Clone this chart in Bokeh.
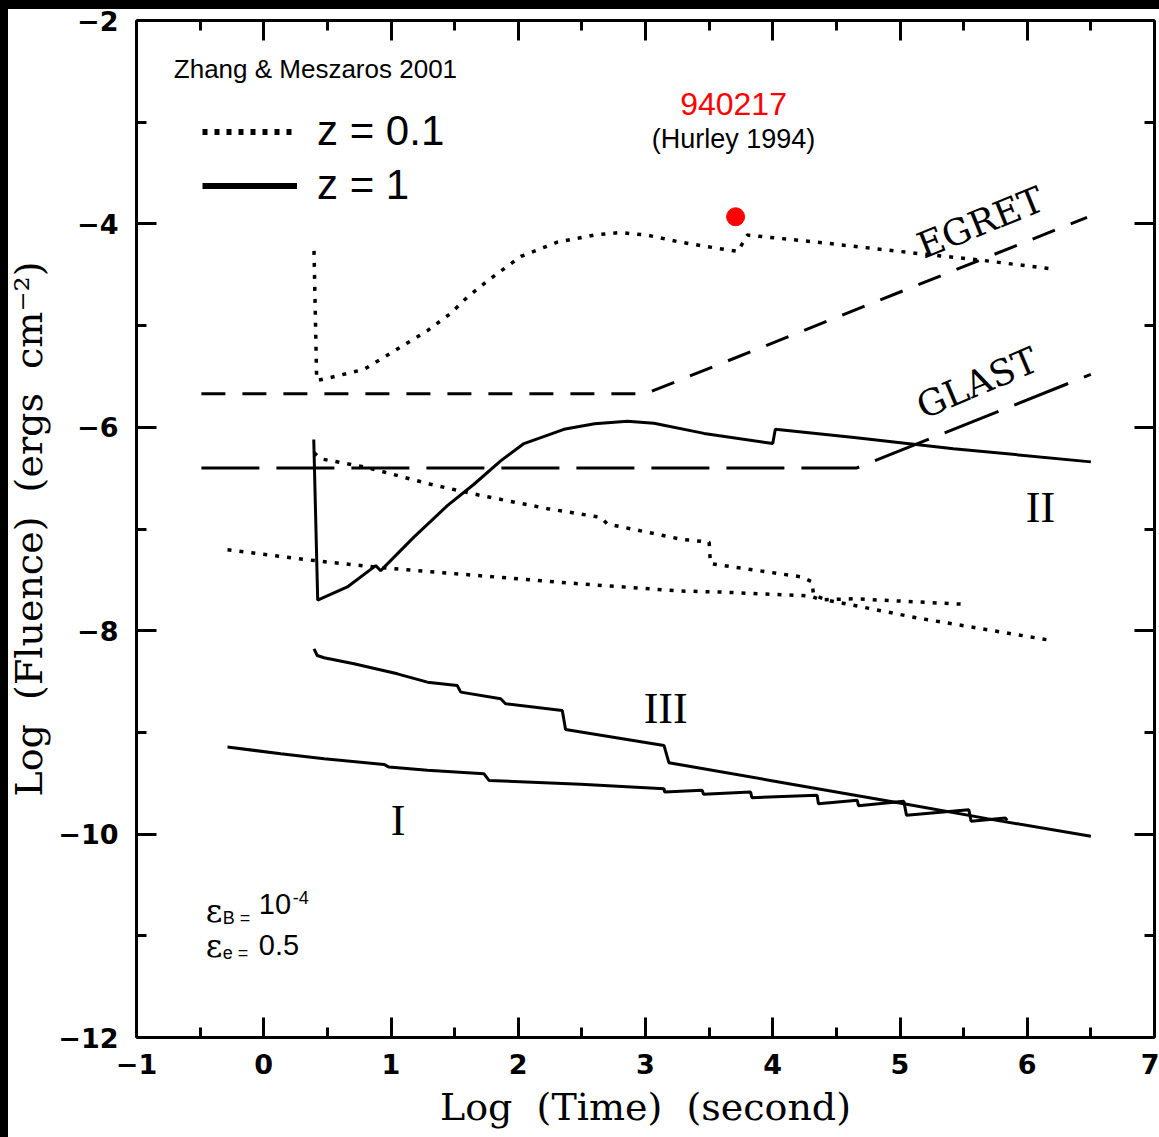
from bokeh.plotting import figure
from bokeh.models import (Range1d, LinearAxis, FixedTicker, Label, Legend, LegendItem,
                          CustomLabelingPolicy)
from bokeh.embed import file_html
from bokeh.resources import INLINE

# ---------------- data ----------------
x_ticks = [-1, 0, 1, 2, 3, 4, 5, 6, 7]
x_tick_labels = ["−1", "0", "1", "2", "3", "4", "5", "6", "7"]
x_minor = [-0.5, 0.5, 1.5, 2.5, 3.5, 4.5, 5.5, 6.5]
y_ticks = [-12, -10, -8, -6, -4, -2]
y_tick_labels = ["−12", "−10", "−8", "−6", "−4", "−2"]
y_minor = [-11, -9, -7, -5, -3]

# z = 0.1 (dotted), upper curve
dz_up_x = [0.395, 0.416, 0.526, 0.788, 1.05, 1.286, 1.469, 1.60, 1.78, 2.02, 2.307, 2.595,
           2.80, 3.01, 3.276, 3.616, 3.726, 3.80, 4.35, 5.135, 5.66, 6.17]
dz_up_y = [-4.265, -5.54, -5.51, -5.43, -5.23, -5.05, -4.88, -4.72, -4.54, -4.32, -4.18, -4.11,
           -4.085, -4.11, -4.18, -4.25, -4.27, -4.11, -4.18, -4.29, -4.36, -4.44]

# z = 0.1 (dotted), middle curve
dz_mid_x = [0.395, 0.448, 0.788, 0.945, 1.31, 1.705, 2.23, 2.647, 2.70, 3.276, 3.50, 3.51,
            4.22, 4.31, 4.32, 4.43, 5.16, 6.21]
dz_mid_y = [-6.25, -6.31, -6.39, -6.44, -6.56, -6.67, -6.80, -6.885, -6.95, -7.10, -7.13, -7.34,
            -7.47, -7.52, -7.65, -7.70, -7.88, -8.10]

# z = 0.1 (dotted), lower curve
dz_low_x = [-0.285, 0.395, 0.919, 1.705, 2.49, 3.276, 3.59, 4.22, 4.30, 4.375, 4.64, 5.53]
dz_low_y = [-7.205, -7.31, -7.38, -7.46, -7.54, -7.61, -7.62, -7.654, -7.66, -7.696, -7.686, -7.742]

# z = 1 (solid), curve II
s2_x = [0.393, 0.424, 0.657, 0.88, 0.919, 0.958, 1.18, 1.443, 1.652, 1.862, 2.045, 2.359, 2.60,
        2.857, 3.066, 3.46, 4.0, 4.02, 4.64, 5.42, 6.50]
s2_y = [-6.12, -7.70, -7.57, -7.36, -7.41, -7.36, -7.08, -6.77, -6.56, -6.33, -6.16, -6.02, -5.965,
        -5.94, -5.96, -6.06, -6.16, -6.02, -6.10, -6.21, -6.34]

# z = 1 (solid), curve III
s3_x = [0.395, 0.42, 0.474, 0.709, 1.05, 1.286, 1.52, 1.548, 1.862, 1.90, 2.346, 2.372, 3.145,
        3.184, 3.98, 5.03, 5.685, 6.50]
s3_y = [-8.178, -8.244, -8.266, -8.325, -8.424, -8.506, -8.538, -8.604, -8.669, -8.718, -8.784,
        -8.971, -9.128, -9.298, -9.472, -9.701, -9.848, -10.022]

# z = 1 (solid), curve I
s1_x = [-0.285, 0.134, 0.474, 0.945, 0.984, 1.286, 1.73, 1.77, 2.49, 3.145, 3.15, 3.446, 3.456,
        3.826, 3.836, 4.349, 4.359, 4.664, 4.674, 5.03, 5.051, 5.541, 5.559, 5.829, 5.842]
s1_y = [-9.144, -9.21, -9.259, -9.315, -9.341, -9.373, -9.406, -9.472, -9.511, -9.553, -9.586,
        -9.570, -9.609, -9.586, -9.642, -9.619, -9.701, -9.668, -9.721, -9.678, -9.815, -9.760,
        -9.874, -9.842, -9.864]

# detector sensitivity limits
egret_x = [-0.49, 3.0, 6.47]
egret_y = [-5.67, -5.67, -3.935]
glast_x = [-0.49, 4.66, 6.50]
glast_y = [-6.40, -6.40, -5.48]

# GRB 940217 point
grb_x = [3.708]
grb_y = [-3.93]

# ---------------- figure ----------------
p = figure(width=1159, height=1137, x_range=Range1d(-1, 7), y_range=Range1d(-12, -2),
           output_backend="svg", toolbar_location=None,
           min_border_left=136, min_border_right=5, min_border_top=20, min_border_bottom=100,
           background_fill_color="white", border_fill_alpha=0)
# black strips of the scanned page along the top and left edges (behind the transparent border)
p.styles = {"background-color": "white", "box-shadow": "inset 8px 9px 0 0 black"}
p.xgrid.visible = False
p.ygrid.visible = False
p.outline_line_color = None

xt = FixedTicker(ticks=x_ticks, minor_ticks=x_minor)
yt = FixedTicker(ticks=y_ticks, minor_ticks=y_minor)


def style_axis(ax, ticker):
    ax.ticker = ticker
    ax.major_tick_in = 20
    ax.major_tick_out = 0
    ax.minor_tick_in = 10
    ax.minor_tick_out = 0
    ax.major_tick_line_width = 3
    ax.minor_tick_line_width = 3
    ax.axis_line_width = 3
    ax.axis_line_color = "black"
    ax.major_tick_line_color = "black"
    ax.minor_tick_line_color = "black"


xa = p.xaxis[0]
ya = p.yaxis[0]
style_axis(xa, xt)
style_axis(ya, yt)
xa.major_label_overrides = dict(zip(x_ticks, x_tick_labels))
ya.major_label_overrides = dict(zip(y_ticks, y_tick_labels))
for ax in (xa, ya):
    ax.major_label_text_font = "DejaVu Sans"
    ax.major_label_text_font_style = "bold"
    ax.major_label_text_font_size = "27px"
    ax.major_label_text_color = "black"
    ax.axis_label_text_font = "DejaVu Serif"
    ax.axis_label_text_font_style = "normal"
    ax.axis_label_text_font_size = "38px"
    ax.axis_label_text_color = "black"
xa.major_label_standoff = 16
ya.major_label_standoff = 18
xa.axis_label = "Log \u00a0(Time) \u00a0(second)"
ya.axis_label = "Log \u00a0(Fluence) \u00a0(ergs \u00a0cm⁻²)"
xa.axis_label_standoff = 8
ya.axis_label_standoff = 4

no_labels = CustomLabelingPolicy(code="for (const i of indices) { indices.unset(i) }\nreturn indices")
top = LinearAxis()
right = LinearAxis()
style_axis(top, xt)
style_axis(right, yt)
for ax in (top, right):
    ax.major_label_policy = no_labels
    ax.major_label_text_font_size = "1px"
    ax.major_label_standoff = 0
p.add_layout(top, "above")
p.add_layout(right, "right")

# ---------------- curves ----------------
dot = dict(line_color="black", line_width=3.5, line_dash="4 8")
sol = dict(line_color="black", line_width=3)
p.line(dz_up_x, dz_up_y, **dot)
p.line(dz_mid_x, dz_mid_y, **dot)
p.line(dz_low_x, dz_low_y, **dot)
p.line(s2_x, s2_y, **sol)
p.line(s3_x, s3_y, **sol)
p.line(s1_x, s1_y, **sol)
p.line(egret_x, egret_y, line_color="black", line_width=3, line_dash="24 17")
p.line(glast_x, glast_y, line_color="black", line_width=3, line_dash="58 17")
p.scatter(grb_x, grb_y, size=18, color="#ff0000", line_color="#ff0000")

# legend key samples (thicker, like the reference key); NaN data so nothing is drawn in the plot
nan = float("nan")
leg_dot = p.line([nan], [nan], line_color="black", line_width=6, line_dash="5 7")
leg_sol = p.line([nan], [nan], line_color="black", line_width=6)
legend = Legend(items=[LegendItem(label="z = 0.1", renderers=[leg_dot]),
                       LegendItem(label="z = 1", renderers=[leg_sol])],
                location=(66, 828), orientation="vertical",
                glyph_width=95, glyph_height=47, label_standoff=20, spacing=6,
                padding=0, margin=0, border_line_color=None, background_fill_alpha=0,
                label_text_font="Liberation Sans", label_text_font_size="42px",
                label_text_color="black", label_text_baseline="middle")
p.add_layout(legend, "center")


def lab(x, y, text, size, font="Liberation Sans", color="black", align="left",
        angle=0, style="normal"):
    p.add_layout(Label(x=x, y=y, text=text, text_font=font, text_font_size=size,
                       text_color=color, text_align=align, text_baseline="middle",
                       angle=angle, angle_units="deg", text_font_style=style))


lab(-0.707, -2.477, "Zhang & Meszaros 2001", "26px")
lab(3.692, -2.821, "940217", "32px", color="#ff0000", align="center")
lab(3.692, -3.165, "(Hurley 1994)", "27px", align="center")
lab(5.632, -3.987, "EGRET", "36px", font="DejaVu Serif", align="center", angle=22)
lab(5.606, -5.565, "GLAST", "36px", font="DejaVu Serif", align="center", angle=23)
lab(3.158, -8.767, "III", "44px", font="Liberation Serif", align="center")
lab(6.104, -6.787, "II", "44px", font="Liberation Serif", align="center")
lab(1.055, -9.871, "I", "44px", font="Liberation Serif", align="center")

lab(-0.456, -10.758, "ε", "32px", font="DejaVu Serif")
lab(-0.322, -10.827, "B =", "18px")
lab(-0.039, -10.69, "10", "29px")
lab(0.228, -10.621, "-4", "18px")
lab(-0.456, -11.102, "ε", "32px", font="DejaVu Serif")
lab(-0.322, -11.171, "e =", "18px")
lab(-0.039, -11.092, "0.5", "29px")

open("out.html", "w").write(file_html(p, INLINE))
